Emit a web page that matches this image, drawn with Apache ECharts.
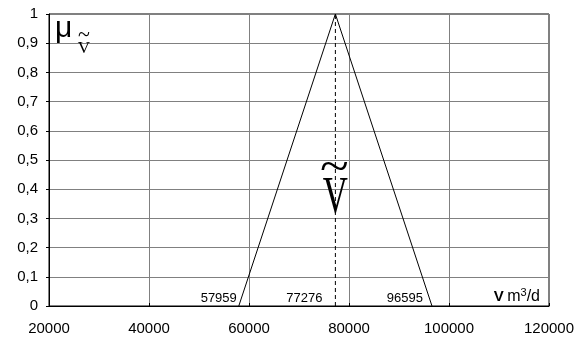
<!DOCTYPE html>
<html><head><meta charset="utf-8">
<script src="https://cdn.jsdelivr.net/npm/echarts@6/dist/echarts.min.js"></script>
<style>html,body{margin:0;padding:0;background:#fff}#c{width:582px;height:342px}</style>
</head><body><div id="c"></div>
<script>
const xMin = 20000, xMax = 120000, xStep = 20000;
const yMin = 0, yMax = 1, yStep = 0.1;
const triangleX = [57959, 77276, 96595];
const triangleMu = [0, 1, 0];
const peakX = 77276;
const peakLineMu = [0, 1];
const pointLabels = [57959, 77276, 96595];
const pointLabelShift = [-2, -13, -9];

const sans = 'Liberation Sans, Arial, sans-serif';
const serif = 'Liberation Serif, Times New Roman, serif';
const chart = echarts.init(document.getElementById('c'), null, {renderer: 'canvas'});

const option = {
  animation: false,
  backgroundColor: '#fff',
  grid: {left: 49, right: 33, top: 14, bottom: 36, show: true, borderColor: '#000', borderWidth: 1},
  xAxis: {
    type: 'value', min: xMin, max: xMax, interval: xStep,
    axisLine: {show: true, onZero: false, lineStyle: {color: '#000', width: 1}},
    axisTick: {show: true, inside: true, length: 3, lineStyle: {color: '#000'}},
    axisLabel: {color: '#000', fontFamily: sans, fontSize: 15, margin: 15, formatter: v => String(v)},
    splitLine: {show: true, lineStyle: {color: '#808080', width: 1}}
  },
  yAxis: {
    type: 'value', min: yMin, max: yMax, interval: yStep,
    axisLine: {show: true, lineStyle: {color: '#000', width: 1}},
    axisTick: {show: true, length: 3, lineStyle: {color: '#000'}},
    axisLabel: {color: '#000', fontFamily: sans, fontSize: 15, margin: 11,
      formatter: v => String(+v.toFixed(1)).replace('.', ',')},
    splitLine: {show: true, lineStyle: {color: '#808080', width: 1}}
  },
  series: [
    {
      type: 'line', symbol: 'none', silent: true,
      data: triangleX.map((x, i) => [x, triangleMu[i]]),
      lineStyle: {color: '#000', width: 1},
      markPoint: {
        symbol: 'circle', symbolSize: 0, silent: true,
        data: pointLabels.map((v, i) => ({
          coord: [v, 0], value: v,
          label: {show: true, formatter: String(v), color: '#000', fontFamily: sans, fontSize: 13,
            align: 'right', verticalAlign: 'middle', offset: [pointLabelShift[i], -8]}
        })).concat([{
          coord: [xMax, 0], value: 0,
          label: {show: true, formatter: '{b|V} {n|m}{s|3}{n|/d}', align: 'right', verticalAlign: 'middle',
            offset: [-9, -9],
            rich: {
              b: {fontFamily: sans, fontSize: 15, fontWeight: 'bold', color: '#000', lineHeight: 18},
              n: {fontFamily: sans, fontSize: 16, color: '#000', lineHeight: 18},
              s: {fontFamily: sans, fontSize: 11, color: '#000', padding: [0, 0, 9, 0]}
            }}
        }])
      }
    },
    {
      type: 'line', symbol: 'none', silent: true,
      data: peakLineMu.map(m => [peakX, m]),
      lineStyle: {color: '#000', width: 1, type: [4, 3]}
    }
  ]
};
chart.setOption(option);

function px(x, y) { return chart.convertToPixel({gridIndex: 0}, [x, y]); }
const pV = px(peakX, 0.377);
const pMu = px(xMin, 1);
chart.setOption({
  graphic: [
    {type: 'text', x: pV[0], y: pV[1] + 30, scaleX: 0.87, scaleY: 1.32, silent: true,
      style: {text: 'V', font: 'normal 40px ' + serif, fill: '#000', textAlign: 'center', textVerticalAlign: 'bottom'}},
    {type: 'text', x: pV[0] - 1, y: pV[1] - 27, scaleX: 1.15, scaleY: 1.0, silent: true,
      style: {text: '~', font: 'normal 46px ' + serif, fill: '#000', textAlign: 'center', textVerticalAlign: 'middle'}},
    {type: 'text', x: pMu[0] + 6, y: pMu[1] + 0, silent: true,
      style: {text: 'μ', font: 'normal 30px ' + sans, fill: '#000', textAlign: 'left', textVerticalAlign: 'top'}},
    {type: 'text', x: pMu[0] + 35, y: pMu[1] + 26, silent: true,
      style: {text: 'V', font: 'normal 17px ' + serif, fill: '#000', textAlign: 'center', textVerticalAlign: 'top'}},
    {type: 'text', x: pMu[0] + 35, y: pMu[1] + 21, silent: true,
      style: {text: '~', font: 'normal 22px ' + serif, fill: '#000', textAlign: 'center', textVerticalAlign: 'middle'}}
  ]
});
</script></body></html>
